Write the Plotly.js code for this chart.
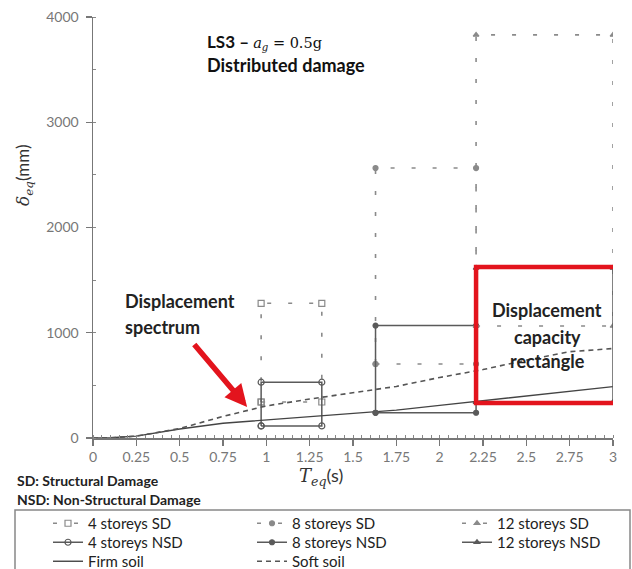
<!DOCTYPE html>
<html>
<head>
<meta charset="utf-8">
<script src="https://cdn.plot.ly/plotly-3.0.1.min.js"></script>
<style>html,body{margin:0;padding:0;background:#fff;}#chart{width:632px;height:569px;}</style>
</head>
<body>
<div id="chart"></div>
<script>
// ---- data ----
const spectrumT = [0, 0.1, 0.25, 0.5, 0.75, 1.0, 1.25, 1.5, 1.75, 2.0, 2.25, 2.5, 2.75, 3.0];
const firmSoil = [0, 2, 18, 85, 140, 172, 205, 235, 265, 310, 355, 400, 445, 488];
const softSoil = [0, 2, 18, 90, 205, 305, 370, 430, 490, 575, 650, 740, 820, 850];

const T4 = [0.97, 1.32];
const T8 = [1.63, 2.21];
const T12 = [2.21, 3.0];
const SD4 = [342, 1280];
const NSD4 = [115, 530];
const SD8 = [703, 2565];
const NSD8 = [240, 1068];
const SD12 = [1064, 3830];
const NSD12 = [340, 1615];

const xTickVals = [0, 0.25, 0.5, 0.75, 1, 1.25, 1.5, 1.75, 2, 2.25, 2.5, 2.75, 3];
const xTickText = ['0', '0.25', '0.5', '0.75', '1', '1.25', '1.5', '1.75', '2', '2.25', '2.5', '2.75', '3'];
const yTickVals = [0, 1000, 2000, 3000, 4000];
const yTickText = ['0', '1000', '2000', '3000', '4000'];

// ---- helpers ----
function rect(T, D) {
  return { x: [T[0], T[1], T[1], T[0], T[0]], y: [D[0], D[0], D[1], D[1], D[0]] };
}
const sdColor = '#8a8a8a';
const nsdColor = '#5a5a5a';
const sdDash = '4px,17px';

function sdTrace(name, T, D, sym, size, leg) {
  const r = rect(T, D);
  return { type: 'scatter', mode: 'lines+markers', name: name, x: r.x, y: r.y, legend: leg,
    line: { color: sdColor, width: 1.6, dash: sdDash },
    marker: { symbol: sym, size: size, color: sdColor, line: { color: sdColor, width: 1.2 } } };
}
function nsdTrace(name, T, D, sym, size, leg) {
  const r = rect(T, D);
  return { type: 'scatter', mode: 'lines+markers', name: name, x: r.x, y: r.y, legend: leg,
    line: { color: nsdColor, width: 1.5 },
    marker: { symbol: sym, size: size, color: nsdColor, line: { color: nsdColor, width: 1.2 } } };
}

const traces = [
  sdTrace('4 storeys SD', T4, SD4, 'square-open', 6, 'legend'),
  nsdTrace('4 storeys NSD', T4, NSD4, 'circle-open', 6, 'legend2'),
  { type: 'scatter', mode: 'lines', name: 'Firm soil', x: spectrumT, y: firmSoil, legend: 'legend3',
    line: { color: '#444', width: 1.4 } },
  sdTrace('8 storeys SD', T8, SD8, 'circle', 5, 'legend4'),
  nsdTrace('8 storeys NSD', T8, NSD8, 'circle', 5, 'legend5'),
  { type: 'scatter', mode: 'lines', name: 'Soft soil', x: spectrumT, y: softSoil, legend: 'legend6',
    line: { color: '#555', width: 1.6, dash: '5px,4px' } },
  sdTrace('12 storeys SD', T12, SD12, 'triangle-up', 5, 'legend7'),
  nsdTrace('12 storeys NSD', T12, NSD12, 'triangle-up', 5, 'legend8')
];

const txt = 'Lato, "Open Sans", sans-serif';
const red = '#e3141d';
const serifSpan = function (s, extra) {
  return '<span style="font-family:' + "'DejaVu Serif'" + (extra || '') + '">' + s + '</span>';
};

function legendAt(textX, rowCenterY) {
  return {
    orientation: 'v', xref: 'container', yref: 'container',
    x: (textX - 40) / 632, y: 1 - (rowCenterY - 15) / 569, xanchor: 'left', yanchor: 'top',
    font: { family: txt, size: 15, color: '#222' },
    bgcolor: 'rgba(0,0,0,0)', borderwidth: 0, itemwidth: 30, tracegroupgap: 0
  };
}

const layout = {
  width: 632, height: 569,
  margin: { l: 93, r: 19, t: 17, b: 131, autoexpand: false },
  paper_bgcolor: '#fff', plot_bgcolor: '#fff',
  font: { family: txt, color: '#222' },
  showlegend: true,
  xaxis: {
    range: [0, 3], tickvals: xTickVals, ticktext: xTickText,
    showgrid: false, zeroline: false, showline: true, linecolor: '#777', linewidth: 1.5,
    ticks: 'outside', ticklen: 6, tickcolor: '#777', tickwidth: 1.3,
    tickfont: { family: txt, size: 14, color: '#777' },
    minor: { dtick: 0.05, ticks: 'inside', ticklen: 3, tickcolor: '#888', tickwidth: 1, showgrid: false }
  },
  yaxis: {
    range: [0, 4000], tickvals: yTickVals, ticktext: yTickText,
    showgrid: false, zeroline: false, showline: true, linecolor: '#777', linewidth: 1.5,
    ticks: 'outside', ticklen: 6, tickcolor: '#777', tickwidth: 1.3, ticklabelstandoff: 4,
    tickfont: { family: txt, size: 14, color: '#777' },
    minor: { dtick: 500, ticks: 'inside', ticklen: 3, tickcolor: '#888', tickwidth: 1, showgrid: false }
  },
  legend: legendAt(88, 522),
  legend2: legendAt(88, 541),
  legend3: legendAt(88, 560),
  legend4: legendAt(292, 522),
  legend5: legendAt(292, 541),
  legend6: legendAt(292, 560),
  legend7: legendAt(497, 522),
  legend8: legendAt(497, 541),
  shapes: [
    { type: 'rect', xref: 'paper', yref: 'paper',
      x0: (15 - 93) / 520, x1: (630 - 93) / 520, y0: (438 - 510) / 421, y1: (438 - 600) / 421,
      line: { color: '#888', width: 1.5 }, fillcolor: 'rgba(0,0,0,0)', layer: 'below' },
    { type: 'rect', xref: 'x', yref: 'y',
      x0: T12[0], x1: T12[1] + 0.02, y0: NSD12[0] - 8, y1: NSD12[1] + 10,
      line: { color: red, width: 4.5 }, fillcolor: 'rgba(0,0,0,0)', layer: 'above' }
  ],
  annotations: [
    { xref: 'x', yref: 'y', x: 0.646, y: 3762, xanchor: 'left', yanchor: 'middle', showarrow: false,
      text: '<b>LS3 – </b>' + serifSpan('<i>a</i><sub><i>g</i></sub> = 0.5g', ';font-size:14.5px'),
      font: { family: txt, size: 17, color: '#111' } },
    { xref: 'x', yref: 'y', x: 0.646, y: 3544, xanchor: 'left', yanchor: 'middle', showarrow: false,
      text: '<b>Distributed damage</b>', font: { family: txt, size: 18, color: '#111' } },
    { xref: 'x', yref: 'y', x: 0.173, y: 1302, xanchor: 'left', yanchor: 'middle', showarrow: false,
      text: '<b>Displacement</b>', font: { family: txt, size: 18, color: '#222' } },
    { xref: 'x', yref: 'y', x: 0.173, y: 1055, xanchor: 'left', yanchor: 'middle', showarrow: false,
      text: '<b>spectrum</b>', font: { family: txt, size: 18, color: '#222' } },
    { xref: 'x', yref: 'y', x: 2.62, y: 1216, xanchor: 'center', yanchor: 'middle', showarrow: false,
      text: '<b>Displacement</b>', font: { family: txt, size: 18, color: '#222' } },
    { xref: 'x', yref: 'y', x: 2.62, y: 960, xanchor: 'center', yanchor: 'middle', showarrow: false,
      text: '<b>capacity</b>', font: { family: txt, size: 18, color: '#222' } },
    { xref: 'x', yref: 'y', x: 2.62, y: 732, xanchor: 'center', yanchor: 'middle', showarrow: false,
      text: '<b>rectangle</b>', font: { family: txt, size: 18, color: '#222' } },
    { xref: 'x', yref: 'y', axref: 'x', ayref: 'y', x: 0.889, y: 295, ax: 0.577, ay: 903,
      showarrow: true, arrowhead: 2, arrowsize: 0.8, arrowwidth: 5.5, arrowcolor: red, text: '' },
    { xref: 'paper', yref: 'paper', x: (15 - 93) / 520, y: (438 - 481) / 421, xanchor: 'left', yanchor: 'middle',
      showarrow: false, text: '<b>SD: Structural Damage</b>', font: { family: txt, size: 14, color: '#222' } },
    { xref: 'paper', yref: 'paper', x: (15 - 93) / 520, y: (438 - 499) / 421, xanchor: 'left', yanchor: 'middle',
      showarrow: false, text: '<b>NSD: Non-Structural Damage</b>', font: { family: txt, size: 14, color: '#222' } },
    { xref: 'paper', yref: 'paper', x: (321 - 93) / 520, y: (438 - 476) / 421, xanchor: 'center', yanchor: 'middle',
      showarrow: false,
      text: serifSpan('<i>T</i><sub><i>eq</i></sub>') + '(s)',
      font: { family: txt, size: 18, color: '#333' } },
    { xref: 'paper', yref: 'paper', x: (24 - 93) / 520, y: (438 - 175) / 421, xanchor: 'center', yanchor: 'middle',
      showarrow: false, textangle: -90,
      text: serifSpan('<i>δ</i><sub><i>eq</i></sub>') + '(mm)',
      font: { family: txt, size: 17, color: '#333' } }
  ]
};

Plotly.newPlot('chart', traces, layout, { displayModeBar: false, staticPlot: true });
</script>
</body>
</html>
